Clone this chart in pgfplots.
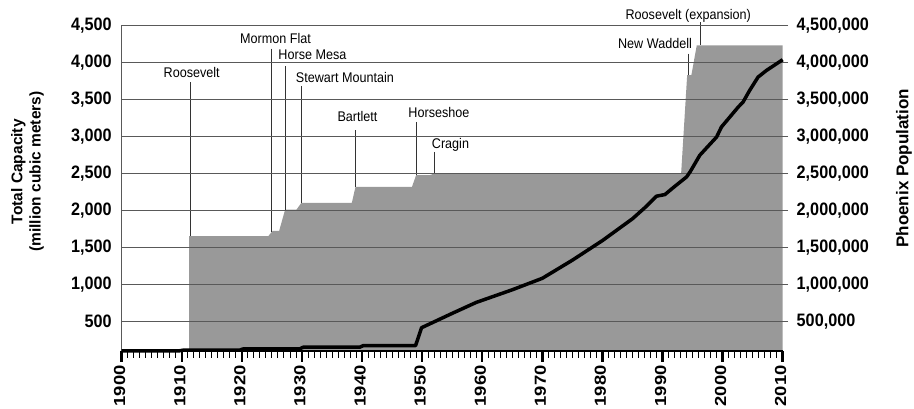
\documentclass[border=0pt]{standalone}
\usepackage{fontspec}
\setmainfont{Liberation Sans}
\newfontfamily\hf[FakeStretch=0.9]{Liberation Sans}
\newfontfamily\vf[FakeStretch=1.15]{Liberation Sans}
\usepackage{pgfplots}
\pgfplotsset{compat=1.18}

\definecolor{fillgray}{gray}{0.6}
\definecolor{gridgray}{gray}{0.35}
\definecolor{callgray}{gray}{0.2}
\newcommand\cfont{\hf\fontsize{14}{16}\selectfont}

\begin{document}
\begin{tikzpicture}
% reservoir capacity (left axis)
\begin{axis}[
  scale only axis, width=661pt, height=325.5pt,
  xmin=1900, xmax=2010, ymin=100, ymax=4500,
  axis x line*=bottom, axis y line*=left,
  x axis line style={-, line width=2pt, black},
  y axis line style={-, line width=0.9pt, gridgray},
  xtick={1900,1910,...,2010}, minor x tick num=9,
  ytick={500,1000,...,4500},
  ymajorgrids, grid style={gridgray, line width=0.9pt},
  axis on top, clip=false,
  tick align=outside,
  major tick length=11pt, minor tick length=7pt,
  major x tick style={line width=2.5pt, black},
  minor x tick style={line width=0.9pt, black},
  ytick style={draw=none},
  scaled ticks=false,
  /pgf/number format/assume math mode=true,
  xticklabel style={rotate=90, anchor=east, yshift=2pt,
    font=\vf\bfseries\fontsize{16}{18}\selectfont,
    /pgf/number format/1000 sep={}},
  yticklabel style={xshift=4.6pt,
    font=\hf\bfseries\fontsize{18}{20}\selectfont,
    /pgf/number format/1000 sep={,}},
  ylabel={Total Capacity\\(million cubic meters)},
  ylabel style={at={(axis description cs:-0.1425,0.5505)}, anchor=center,
    align=center, font=\bfseries\fontsize{15.5}{18.4}\selectfont},
]
\addplot[fill=fillgray, draw=none] coordinates {
  (1911.2,100) (1911.2,1650) (1924.4,1650) (1925.1,1720) (1926.2,1720)
  (1927.2,2010) (1929.1,2010) (1929.9,2100) (1938.3,2100) (1938.9,2315)
  (1948.3,2315) (1949.0,2475) (1951.3,2475) (1952.1,2500) (1993.1,2500)
  (1994.1,3825) (1994.8,3825) (1995.7,4230) (2010,4230) (2010,100)
} -- cycle;

% dam call-outs
\draw[callgray, line width=1pt] (axis cs:1911.37,3733) -- (axis cs:1911.37,1650);
\draw[callgray, line width=1pt] (axis cs:1924.85,4183) -- (axis cs:1924.85,1700);
\draw[callgray, line width=1pt] (axis cs:1927.34,3949) -- (axis cs:1927.34,2010);
\draw[callgray, line width=1pt] (axis cs:1929.95,3679) -- (axis cs:1929.95,2100);
\draw[callgray, line width=1pt] (axis cs:1938.94,3081) -- (axis cs:1938.94,2315);
\draw[callgray, line width=1pt] (axis cs:1948.98,3193) -- (axis cs:1948.98,2475);
\draw[callgray, line width=1pt] (axis cs:1952.02,2788) -- (axis cs:1952.02,2500);
\draw[callgray, line width=1pt] (axis cs:1994.29,4116) -- (axis cs:1994.29,3825);
\draw[callgray, line width=1pt] (axis cs:1996.28,4543) -- (axis cs:1996.28,4230);

\node[anchor=base, inner sep=0pt, font=\cfont] at (axis cs:1911.65,3789) {Roosevelt};
\node[anchor=base, inner sep=0pt, font=\cfont] at (axis cs:1925.6,4248) {Mormon Flat};
\node[anchor=base west, inner sep=0pt, font=\cfont] at (axis cs:1926.06,4032) {Horse Mesa};
\node[anchor=base west, inner sep=0pt, font=\cfont] at (axis cs:1928.96,3730) {Stewart Mountain};
\node[anchor=base, inner sep=0pt, font=\cfont] at (axis cs:1939.24,3203) {Bartlett};
\node[anchor=base west, inner sep=0pt, font=\cfont] at (axis cs:1947.69,3249) {Horseshoe};
\node[anchor=base west, inner sep=0pt, font=\cfont] at (axis cs:1951.59,2831) {Cragin};
\node[anchor=base, inner sep=0pt, font=\cfont] at (axis cs:1988.75,4181) {New Waddell};
\node[anchor=base, inner sep=0pt, font=\cfont] at (axis cs:1994.29,4576) {Roosevelt (expansion)};
\end{axis}

% population (right axis)
\begin{axis}[
  scale only axis, width=661pt, height=325.5pt,
  xmin=1900, xmax=2010, ymin=100000, ymax=4500000,
  axis x line=none, axis y line*=right,
  y axis line style={draw=none},
  ytick={500000,1000000,1500000,2000000,2500000,3000000,3500000,4000000,4500000},
  tick align=outside, major tick length=5.5pt,
  ytick style={gridgray, line width=0.9pt},
  scaled y ticks=false, clip=false,
  /pgf/number format/assume math mode=true,
  yticklabel style={xshift=5pt,
    font=\hf\bfseries\fontsize{18}{20}\selectfont,
    /pgf/number format/fixed, /pgf/number format/1000 sep={,}},
  ylabel={Phoenix Population},
  ylabel style={at={(axis description cs:1.1835,0.5607)}, anchor=center,
    font=\bfseries\fontsize{17}{20}\selectfont},
]
\addplot[black, line width=3.5pt, line join=round] coordinates {
  (1900,100000) (1909.6,100000) (1910.2,108000) (1919.6,108000)
  (1920.2,125000) (1929.6,125000) (1930.2,148000) (1939.6,148000)
  (1940.2,170000) (1948.9,170000) (1949.9,412000) (1955,606000)
  (1959,754000) (1965,925000) (1970,1080000) (1975,1325000)
  (1980,1590000) (1985,1885000) (1987,2030000) (1989,2190000)
  (1990.4,2212000) (1992,2320000) (1994,2450000) (1994.6,2520000)
  (1996.2,2743000) (1999,2990000) (1999.8,3125000) (2002.6,3395000)
  (2003.4,3462000) (2004.5,3620000) (2005.9,3800000) (2007.3,3890000)
  (2010,4035000)
};
\end{axis}

\pgfresetboundingbox
\path (-121.7pt,-58.2pt) rectangle (792.3pt,350.8pt);
\end{tikzpicture}
\end{document}
